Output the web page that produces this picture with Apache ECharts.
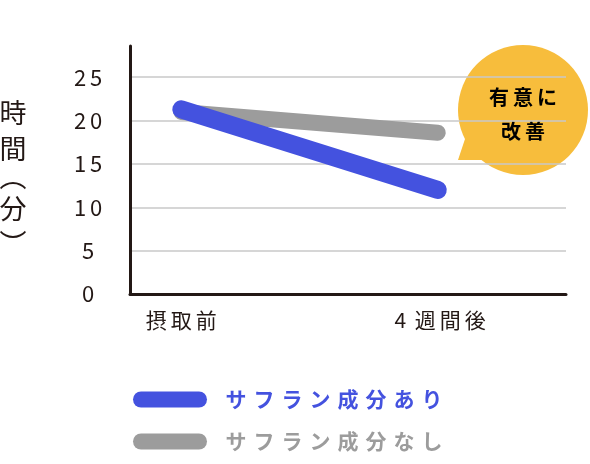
<!DOCTYPE html>
<html>
<head>
<meta charset="utf-8">
<script src="https://cdn.jsdelivr.net/npm/echarts@6/dist/echarts.min.js"></script>
<style>
  html, body { margin: 0; padding: 0; background: #fff; }
  #chart { width: 590px; height: 464px; }
</style>
</head>
<body>
<div id="chart"></div>
<script>
// data
const timePoints = ['摂取前', '4週間後']
const withSaffron = [21.3, 12.0]
const withoutSaffron = [21.0, 18.6]
const seriesNames = ['サフラン成分あり', 'サフラン成分なし']
const yTicks = [0, 5, 10, 15, 20, 25]

const FONT = '"Noto Sans CJK JP", "Noto Sans", sans-serif'
const BLUE = '#4452df'
const GRAY = '#9c9c9c'
const INK = '#231815'
const YELLOW = '#f7bd3c'

// wrap every character in its own rich fragment so we get letter spacing
function spaced(str, key) {
  return str.split('').map(c => '{' + key + '|' + c + '}').join('')
}

function toPoints(values) {
  return values.map((v, i) => [i, v])
}

function legendFor(name, color, top) {
  return {
    orient: 'vertical',
    left: 133,
    top: top,
    padding: 0,
    itemWidth: 74,
    itemHeight: 16,
    icon: 'path://M8,0 H66 A8,8 0 0 1 66,16 H8 A8,8 0 0 1 8,0 Z',
    data: [{ name: name, textStyle: { color: color } }],
    formatter: n => spaced(n, 'l'),
    textStyle: {
      padding: [0, 0, 0, 10],
      rich: {
        l: {
          width: 28,
          align: 'center',
          fontSize: 21,
          lineHeight: 24,
          fontWeight: 'bold',
          fontFamily: FONT
        }
      }
    }
  }
}

// vertical axis title 時間︵分︶, one glyph per line
function titleChar(ch, y) {
  return {
    type: 'text',
    x: 13,
    y: y,
    style: {
      text: ch,
      align: 'center',
      verticalAlign: 'middle',
      fontSize: 27,
      fontFamily: FONT,
      fill: INK
    }
  }
}

const chart = echarts.init(document.getElementById('chart'), null, { renderer: 'canvas' })

const option = {
  animation: false,
  textStyle: { fontFamily: FONT },
  grid: {
    left: 130,
    right: 24,
    top: 46,
    bottom: 170
  },
  xAxis: {
    type: 'value',
    min: -0.2,
    max: 1.5,
    interval: 0.1,
    axisLine: {
      show: true,
      onZero: false,
      lineStyle: { color: INK, width: 3 }
    },
    axisTick: { show: false },
    splitLine: { show: false },
    axisLabel: {
      margin: 16,
      color: INK,
      formatter: value => {
        const idx = timePoints.findIndex((t, i) => Math.abs(value - i) < 1e-6)
        return idx < 0 ? '' : spaced(timePoints[idx], 'c')
      },
      rich: {
        c: { width: 25, align: 'center', fontSize: 21, fontFamily: FONT, color: INK }
      }
    }
  },
  yAxis: {
    type: 'value',
    min: 0,
    max: 28.6,
    interval: 5,
    axisLine: {
      show: true,
      onZero: false,
      lineStyle: { color: INK, width: 3 }
    },
    axisTick: { show: false },
    splitLine: {
      show: true,
      showMaxLine: false,
      lineStyle: { color: '#c8c8c8', width: 1.5 }
    },
    axisLabel: {
      showMaxLabel: false,
      margin: 42,
      align: 'center',
      formatter: value => yTicks.includes(value) ? spaced(String(value), 'n') : '',
      rich: {
        n: { width: 16, align: 'center', fontSize: 22, fontFamily: FONT, color: INK }
      }
    }
  },
  legend: [
    legendFor(seriesNames[0], BLUE, 389),
    legendFor(seriesNames[1], GRAY, 431)
  ],
  series: [
    {
      name: seriesNames[1],
      type: 'line',
      data: toPoints(withoutSaffron),
      showSymbol: false,
      symbol: 'none',
      itemStyle: { color: GRAY },
      lineStyle: { color: GRAY, width: 16, cap: 'round' },
      z: 2
    },
    {
      name: seriesNames[0],
      type: 'line',
      data: toPoints(withSaffron),
      showSymbol: false,
      symbol: 'none',
      itemStyle: { color: BLUE },
      lineStyle: { color: BLUE, width: 18, cap: 'round' },
      z: 3
    }
  ],
  graphic: [
    {
      type: 'group',
      children: [
        titleChar('時', 113),
        titleChar('間', 149),
        titleChar('︵', 177),
        titleChar('分', 209),
        titleChar('︶', 244)
      ]
    },
    {
      type: 'group',
      z: 100,
      children: [
        {
          type: 'polygon',
          shape: { points: [[458, 160], [466, 136], [490, 160]] },
          style: { fill: YELLOW }
        },
        {
          type: 'circle',
          shape: { cx: 523, cy: 110, r: 65 },
          style: { fill: YELLOW }
        },
        {
          type: 'text',
          x: 523,
          y: 114,
          style: {
            text: spaced('有意に', 'b') + '\n' + spaced('改善', 'b'),
            align: 'center',
            verticalAlign: 'middle',
            rich: {
              b: {
                width: 24,
                align: 'center',
                fontSize: 20,
                lineHeight: 34,
                fontWeight: 'bold',
                color: '#fff',
                fontFamily: FONT
              }
            }
          }
        }
      ]
    }
  ]
}

chart.setOption(option)
</script>
</body>
</html>
